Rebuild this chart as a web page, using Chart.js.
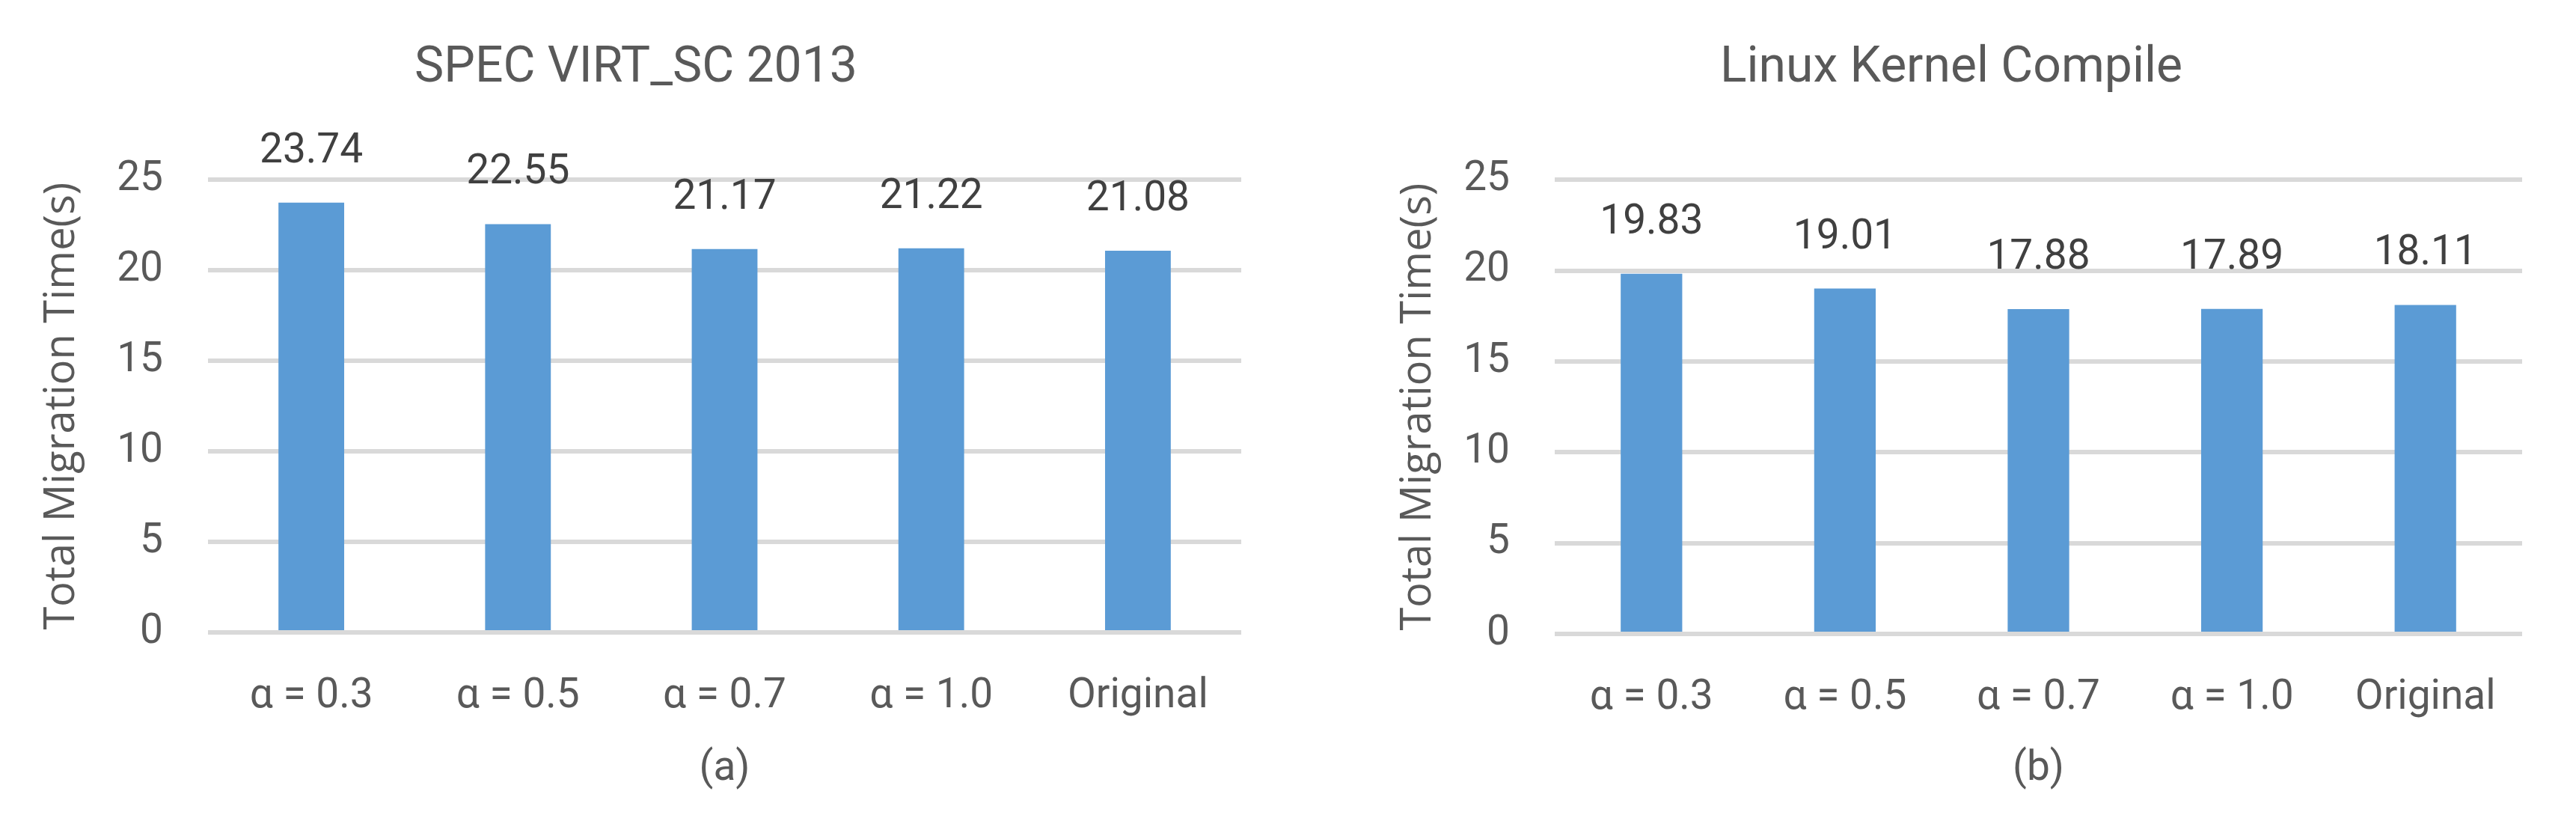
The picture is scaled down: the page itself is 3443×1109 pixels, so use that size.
<!DOCTYPE html>
<html>
<head>
<meta charset="utf-8">
<script src="https://cdn.jsdelivr.net/npm/chart.js@4/dist/chart.umd.min.js"></script>
<style>
    body { margin: 0; background: #ffffff; }
    #wrap { position: relative; width: 3443px; height: 1109px; }
    canvas { position: absolute; top: 0; }
</style>
</head>
<body>
<div id="wrap">
    <canvas id="specChart" width="1720" height="1109" style="left:0"></canvas>
    <canvas id="kernelChart" width="1723" height="1109" style="left:1720px"></canvas>
</div>
<script>
const categories = ['α = 0.3', 'α = 0.5', 'α = 0.7', 'α = 1.0', 'Original'];
const specValues = [23.74, 22.55, 21.17, 21.22, 21.08];
const kernelValues = [19.83, 19.01, 17.88, 17.89, 18.11];
const yMin = 0;
const yMax = 25;
const yStep = 5;

const textGrey = '#595959';
const barBlue = '#5b9bd5';

// value labels above each bar
const barValueLabels = {
    id: 'barValueLabels',
    afterDatasetsDraw(chart) {
        const ctx = chart.ctx;
        const meta = chart.getDatasetMeta(0);
        const values = chart.data.datasets[0].data;
        ctx.save();
        ctx.font = '55px Roboto';
        ctx.fillStyle = '#404040';
        ctx.textAlign = 'center';
        ctx.textBaseline = 'alphabetic';
        meta.data.forEach(function(bar, i) {
            ctx.fillText(values[i].toFixed(2), bar.x, bar.y - 54);
        });
        ctx.restore();
    }
};

function makeChart(canvasId, titleText, values, subLabel, box) {
    const canvas = document.getElementById(canvasId);
    return new Chart(canvas, {
        type: 'bar',
        data: {
            labels: categories,
            datasets: [{
                data: values,
                backgroundColor: barBlue,
                barPercentage: 0.318,
                categoryPercentage: 1.0
            }]
        },
        options: {
            responsive: false,
            animation: false,
            layout: {
                padding: { left: box.padLeft, right: box.padRight, top: 0, bottom: 0 }
            },
            plugins: {
                legend: { display: false },
                tooltip: { enabled: false },
                title: {
                    display: true,
                    text: titleText,
                    color: textGrey,
                    font: { family: 'Roboto', size: 66, weight: 'normal' },
                    padding: { top: 53, bottom: 108 }
                }
            },
            scales: {
                x: {
                    grid: { display: false },
                    border: { display: false },
                    ticks: {
                        color: textGrey,
                        font: { family: 'Roboto', size: 55 },
                        padding: 45,
                        maxRotation: 0,
                        autoSkip: false
                    },
                    title: {
                        display: true,
                        text: subLabel,
                        color: textGrey,
                        font: { family: 'Roboto', size: 55 },
                        padding: { top: 0, bottom: 48 }
                    },
                    afterFit: function(scale) { scale.height = box.xHeight; }
                },
                y: {
                    min: yMin,
                    max: yMax,
                    grid: { color: '#d9d9d9', lineWidth: 6, drawTicks: false },
                    border: { display: false },
                    ticks: {
                        stepSize: yStep,
                        color: textGrey,
                        font: { family: 'Roboto', size: 55 },
                        padding: 60
                    },
                    title: {
                        display: true,
                        text: 'Total Migration Time(s)',
                        color: textGrey,
                        font: { family: 'Open Sans', size: 56 },
                        padding: { top: box.yTitlePad, bottom: 0 }
                    },
                    afterFit: function(scale) { scale.width = box.yWidth; }
                }
            }
        },
        plugins: [barValueLabels]
    });
}

// SPEC VIRT_SC 2013 Chart
makeChart('specChart', 'SPEC VIRT_SC 2013', specValues, '(a)',
    { padLeft: 41, padRight: 61, yWidth: 237, yTitlePad: 8, xHeight: 264 });

// Linux Kernel Compile Chart
makeChart('kernelChart', 'Linux Kernel Compile', kernelValues, '(b)',
    { padLeft: 125, padRight: 72, yWidth: 233, yTitlePad: 17, xHeight: 262 });
</script>
</body>
</html>
